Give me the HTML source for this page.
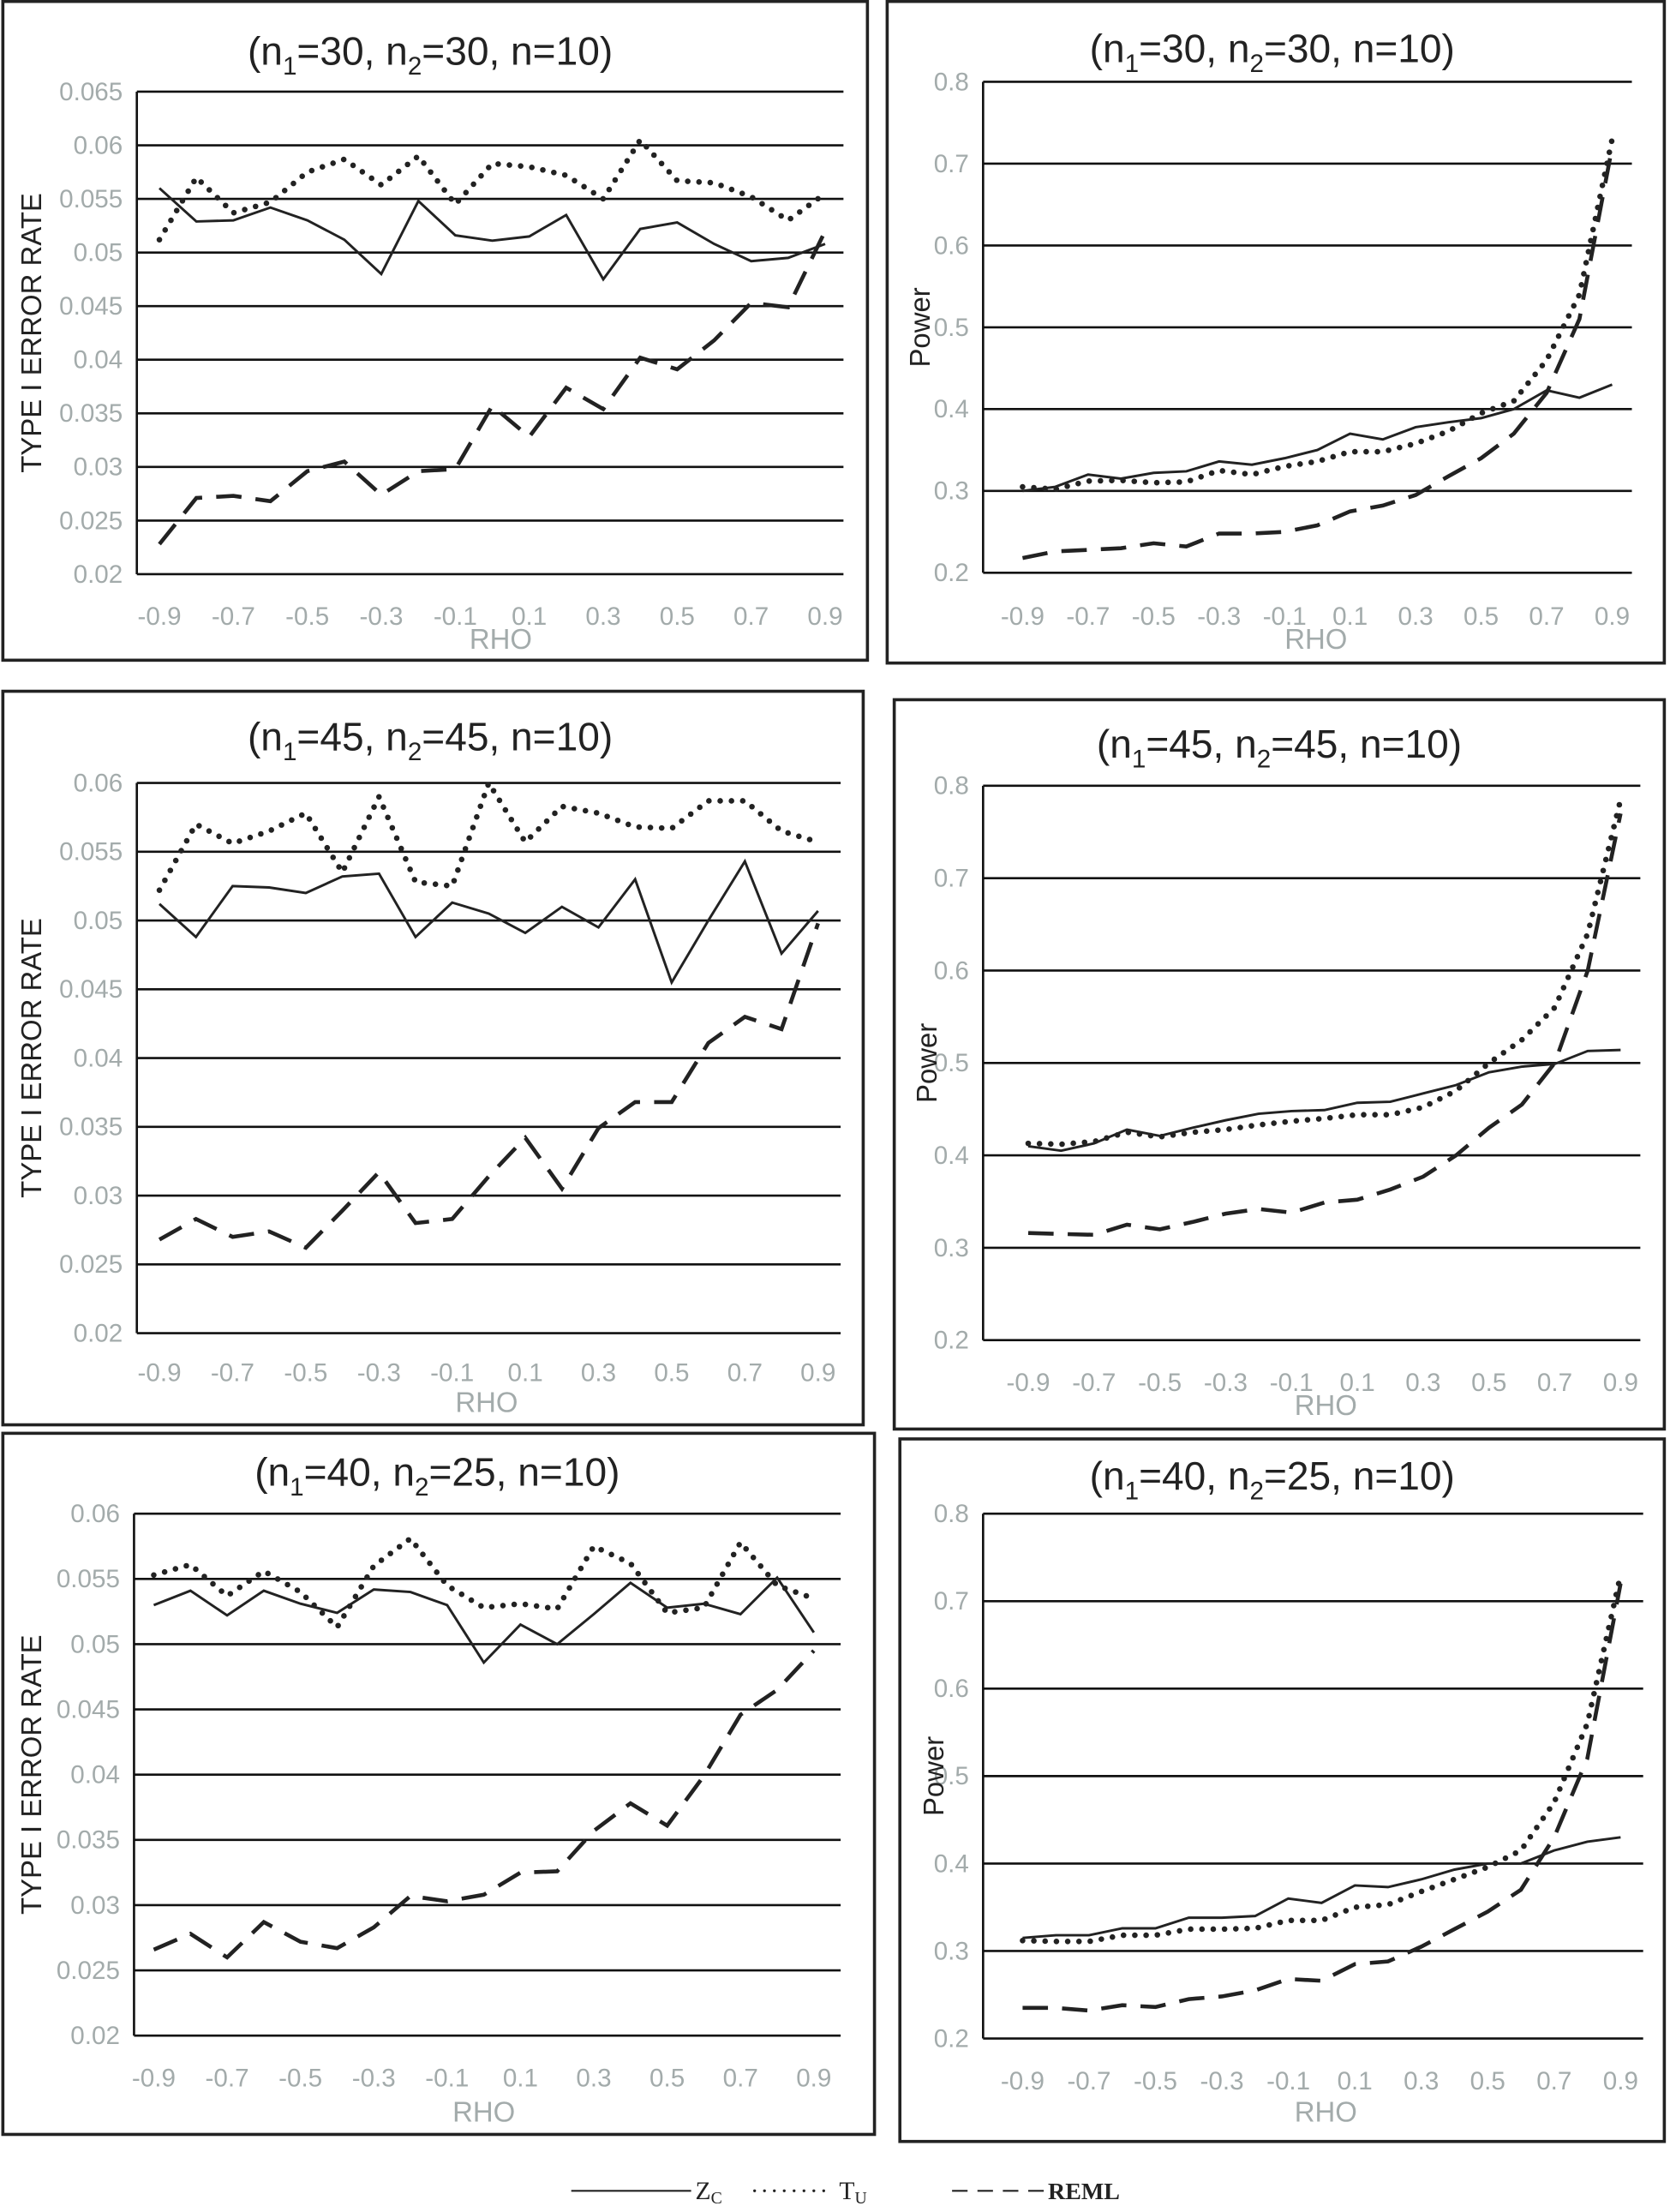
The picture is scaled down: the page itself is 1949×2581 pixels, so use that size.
<!DOCTYPE html>
<html><head><meta charset="utf-8"><style>
html,body{margin:0;padding:0;background:#fff;}
svg{display:block;}
</style></head><body>
<svg id="s" width="1949" height="2581" viewBox="0 0 1184 1568" xmlns="http://www.w3.org/2000/svg" font-family="Liberation Sans, sans-serif">
<rect width="1184" height="1568" fill="#fff"/>
</svg>
<script>
const S=document.getElementById('s');const NS='http://www.w3.org/2000/svg';
function el(t,a,txt){const e=document.createElementNS(NS,t);for(const k in a)e.setAttribute(k,a[k]);if(txt!==undefined)e.textContent=txt;S.appendChild(e);return e;}
const xl=['-0.9','-0.7','-0.5','-0.3','-0.1','0.1','0.3','0.5','0.7','0.9'];
const P=[
{box:[2,1,613,467],L:97,R:598,T:65,B:407,ymin:0.02,ymax:0.065,step:0.005,dec:3,yt:'TYPE I ERROR RATE',ylx:22,xlab:437,x0:113,x1:585,rho:[355,453],title:[305,37],t:['30','30'],
zc:[.056,.0529,.053,.0542,.053,.0512,.048,.0548,.0516,.0511,.0515,.0535,.0475,.0522,.0528,.0508,.0492,.0495,.0508],
tu:[.0512,.057,.0537,.0547,.0575,.0587,.0563,.059,.0545,.0583,.058,.0572,.055,.0605,.0567,.0565,.0552,.053,.0555],
re:[.0228,.0271,.0273,.0268,.0296,.0305,.0274,.0296,.0298,.0357,.0328,.0374,.0354,.0402,.0391,.0418,.0453,.0449,.052]},
{box:[629,1,551,469],L:697,R:1157,T:58,B:406,ymin:0.2,ymax:0.8,step:0.1,dec:1,yt:'Power',ylx:652,xlab:437,x0:725,x1:1143,rho:[933,453],title:[902,35],t:['30','30'],
zc:[.300,.305,.320,.315,.322,.324,.336,.332,.340,.350,.370,.363,.378,.384,.389,.400,.423,.414,.430],
tu:[.305,.302,.312,.313,.310,.311,.325,.320,.330,.336,.348,.348,.358,.373,.395,.410,.460,.540,.730],
re:[.218,.226,.228,.230,.236,.232,.248,.248,.250,.258,.275,.282,.295,.318,.340,.370,.420,.510,.720]},
{box:[2,490,610,520],L:97,R:596,T:555,B:945,ymin:0.02,ymax:0.06,step:0.005,dec:3,yt:'TYPE I ERROR RATE',ylx:22,xlab:973,x0:113,x1:580,rho:[345,994],title:[305,523],t:['45','45'],
zc:[.0512,.0488,.0525,.0524,.052,.0532,.0534,.0488,.0513,.0505,.0491,.051,.0495,.053,.0455,.05,.0543,.0476,.0507],
tu:[.0522,.057,.0556,.0565,.0578,.0535,.059,.0528,.0525,.06,.0557,.0583,.0578,.0568,.0567,.0587,.0587,.0565,.0557],
re:[.0268,.0283,.027,.0274,.0262,.0289,.0317,.028,.0283,.0314,.0342,.0305,.0349,.0368,.0368,.0411,.043,.0421,.0498]},
{box:[634,496,546,517],L:697,R:1163,T:557,B:950,ymin:0.2,ymax:0.8,step:0.1,dec:1,yt:'Power',ylx:657,xlab:980,x0:729,x1:1149,rho:[940,996],title:[907,528],t:['45','45'],
zc:[.410,.405,.413,.428,.421,.430,.438,.445,.448,.449,.457,.458,.467,.476,.490,.496,.499,.513,.514],
tu:[.413,.412,.415,.425,.420,.425,.428,.433,.437,.440,.444,.444,.452,.470,.500,.525,.560,.640,.785],
re:[.316,.315,.314,.325,.320,.328,.337,.342,.338,.349,.352,.363,.377,.400,.430,.455,.500,.600,.770]},
{box:[2,1016,618,497],L:95,R:596,T:1073,B:1443,ymin:0.02,ymax:0.06,step:0.005,dec:3,yt:'TYPE I ERROR RATE',ylx:22,xlab:1473,x0:109,x1:577,rho:[343,1497],title:[310,1044],t:['40','25'],
zc:[.053,.0541,.0522,.0541,.0531,.0524,.0542,.054,.053,.0486,.0515,.05,.0523,.0547,.0528,.0531,.0523,.0551,.0509],
tu:[.0553,.0561,.0537,.0556,.054,.0513,.056,.0581,.0545,.0528,.0531,.0527,.0575,.0562,.0524,.0528,.0578,.0545,.0535],
re:[.0266,.0278,.026,.0287,.0272,.0267,.0283,.0307,.0303,.0308,.0325,.0326,.0357,.0378,.0361,.0399,.0446,.0465,.0495]},
{box:[638,1020,542,498],L:697,R:1165,T:1073,B:1445,ymin:0.2,ymax:0.8,step:0.1,dec:1,yt:'Power',ylx:662,xlab:1475,x0:725,x1:1149,rho:[940,1497],title:[902,1047],t:['40','25'],
zc:[.315,.318,.318,.326,.326,.338,.338,.340,.360,.355,.375,.373,.382,.393,.400,.400,.415,.425,.430],
tu:[.312,.311,.311,.318,.318,.325,.325,.326,.335,.335,.350,.353,.368,.382,.396,.415,.470,.560,.730],
re:[.235,.235,.232,.238,.236,.245,.248,.255,.268,.266,.285,.288,.305,.325,.345,.370,.430,.520,.720]}
];
const G='#a3abab';
P.forEach(p=>{
 el('rect',{x:p.box[0],y:p.box[1],width:p.box[2],height:p.box[3],fill:'none',stroke:'#222','stroke-width':2.2});
 const n=Math.round((p.ymax-p.ymin)/p.step);
 const Y=v=>p.B-(v-p.ymin)/(p.ymax-p.ymin)*(p.B-p.T);
 for(let i=0;i<=n;i++){const v=p.ymin+i*p.step;const y=Y(v);
  el('line',{x1:p.L,y1:y,x2:p.R,y2:y,stroke:'#111','stroke-width':1.6});
  let s=v.toFixed(p.dec).replace(/0+$/,'');if(s.endsWith('.'))s=s.slice(0,-1);
  el('text',{x:p.L-10,y:y+6,'text-anchor':'end','font-size':18,fill:G},s);}
 el('line',{x1:p.L,y1:p.T,x2:p.L,y2:p.B,stroke:'#111','stroke-width':1.6});
 const X=i=>p.x0+i*(p.x1-p.x0)/18;
 xl.forEach((t,i)=>el('text',{x:X(i*2),y:p.xlab+6,'text-anchor':'middle','font-size':18,fill:G},t));
 el('text',{x:p.rho[0],y:p.rho[1]+7,'text-anchor':'middle','font-size':20,fill:G},'RHO');
 const cy=(p.T+p.B)/2;
 el('text',{x:p.ylx,y:cy,'text-anchor':'middle','font-size':20,fill:'#222',transform:`rotate(-90 ${p.ylx} ${cy}) translate(0 7)`},p.yt);
 const tt=el('text',{x:p.title[0],y:p.title[1]+9,'text-anchor':'middle','font-size':28,fill:'#222'});
 tt.innerHTML=`(n<tspan font-size="18" dy="7">1</tspan><tspan dy="-7">=${p.t[0]}, n</tspan><tspan font-size="18" dy="7">2</tspan><tspan dy="-7">=${p.t[1]}, n=10)</tspan>`;
 const pts=a=>a.map((v,i)=>X(i).toFixed(1)+','+Y(v).toFixed(1)).join(' ');
 el('polyline',{points:pts(p.re),fill:'none',stroke:'#222','stroke-width':2.8,'stroke-dasharray':'18 10'});
 el('polyline',{points:pts(p.tu),fill:'none',stroke:'#222','stroke-width':4,'stroke-dasharray':'0 8','stroke-linecap':'round'});
 el('polyline',{points:pts(p.zc),fill:'none',stroke:'#222','stroke-width':1.8});
});
const ly=1553;
el('line',{x1:405,y1:ly,x2:490,y2:ly,stroke:'#222','stroke-width':1.3});
el('text',{x:493,y:ly+6,'font-size':18,'font-family':'Liberation Serif, serif',fill:'#222'}).innerHTML='Z<tspan font-size="12" dy="3">C</tspan>';
el('line',{x1:535,y1:ly,x2:590,y2:ly,stroke:'#222','stroke-width':2,'stroke-dasharray':'0 7','stroke-linecap':'round'});
el('text',{x:595,y:ly+6,'font-size':18,'font-family':'Liberation Serif, serif',fill:'#222'}).innerHTML='T<tspan font-size="12" dy="3">U</tspan>';
el('line',{x1:675,y1:ly,x2:742,y2:ly,stroke:'#222','stroke-width':1.3,'stroke-dasharray':'11 7'});
el('text',{x:743,y:ly+6,'font-size':17,'font-family':'Liberation Serif, serif','font-weight':'bold',fill:'#222'},'REML');
</script>
</body></html>
